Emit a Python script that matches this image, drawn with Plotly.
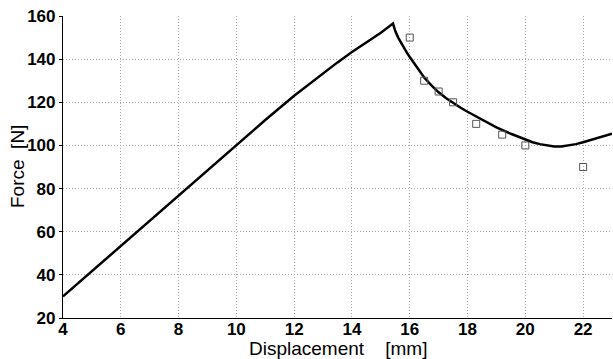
import plotly.graph_objects as go

# Simulated force-displacement curve
disp = [4, 5, 6, 7, 8, 9, 10, 11, 12, 12.5, 13, 13.5, 14, 14.5, 15, 15.42,
        15.5, 15.6, 15.7, 15.8, 15.9, 16, 16.25, 16.5, 16.75, 17, 17.25, 17.5,
        17.75, 18, 18.5, 19, 19.5, 20, 20.25, 20.5, 20.75, 21, 21.25, 21.5,
        21.75, 22, 22.5, 23]
force = [30, 41.7, 53.3, 65, 77, 88.7, 100.3, 111.8, 123, 128.3, 133.5, 138.5,
         143.3, 147.8, 152.2, 156.5,
         153, 150, 147.5, 145.3, 143, 141, 136, 131.5, 127.8, 124.6, 122, 119.7,
         117.6, 115.6, 111.8, 108.4, 105.4, 102.7, 101.5, 100.6, 99.9, 99.5,
         99.5, 99.9, 100.6, 101.5, 103.4, 105.4]

# Experimental points
exp_disp = [16, 16.5, 17, 17.5, 18.3, 19.2, 20, 22]
exp_force = [150, 130, 125, 120, 110, 105, 100, 90]

x_ticks = [4, 6, 8, 10, 12, 14, 16, 18, 20, 22]
y_ticks = [20, 40, 60, 80, 100, 120, 140, 160]

x_title = "Displacement\u00a0\u00a0\u00a0\u00a0[mm]"
y_title = "Force\u00a0\u00a0[N]"

fig = go.Figure()
fig.add_trace(go.Scatter(x=disp, y=force, mode="lines",
                         line=dict(color="black", width=2.5),
                         showlegend=False))
fig.add_trace(go.Scatter(x=exp_disp, y=exp_force, mode="markers",
                         marker=dict(symbol="square-open", size=7, color="#555555",
                                     line=dict(width=1)),
                         showlegend=False))

tickfont = dict(family="Liberation Sans, Arial", size=17, color="black")
titlefont = dict(family="Liberation Sans, Arial", size=19, color="black")
grid = dict(showgrid=True, gridcolor="#a8a8a8", griddash="1px,2px", gridwidth=1,
            showline=True, linecolor="black", linewidth=1.2, zeroline=False)

fig.update_layout(
    width=613, height=359,
    margin=dict(l=63, r=1, t=16, b=41),
    paper_bgcolor="white", plot_bgcolor="white",
    xaxis=dict(range=[4, 23], tickvals=x_ticks,
               ticktext=[f"<b>{v}</b>" for v in x_ticks], tickfont=tickfont,
               ticks="", ticklen=0, ticklabelstandoff=-5, **grid),
    yaxis=dict(range=[20, 160], tickvals=y_ticks,
               ticktext=[f"<b>{v}</b>" for v in y_ticks], tickfont=tickfont,
               ticks="outside", ticklen=3, tickcolor="black", **grid),
    annotations=[
        dict(text=x_title, x=0.5, y=0, xref="paper", yref="paper",
             xanchor="center", yanchor="top", yshift=-18, showarrow=False,
             font=titlefont),
        dict(text=y_title, x=0, y=0.5, xref="paper", yref="paper",
             xanchor="center", yanchor="middle", xshift=-46, textangle=-90,
             showarrow=False, font=titlefont),
    ],
)

fig.write_html("out.html", config={"displayModeBar": False},
               post_script="document.body.style.margin='0';")
